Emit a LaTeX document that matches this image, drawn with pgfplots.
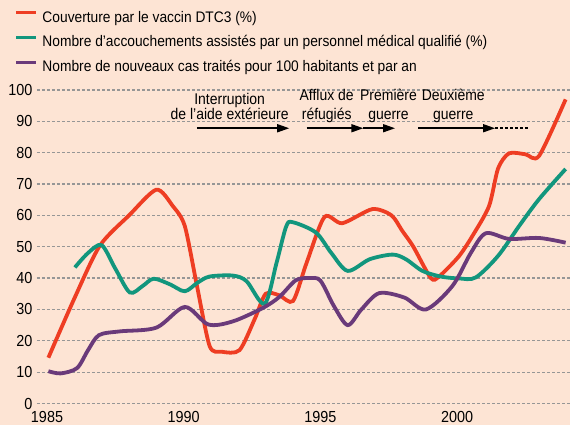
\documentclass[border=0pt]{standalone}
\usepackage{fontspec}
\setmainfont{Liberation Sans}[FakeStretch=0.9]
\usepackage{pgfplots}
\pgfplotsset{compat=1.18}
\usetikzlibrary{arrows.meta}
\definecolor{bg}{RGB}{253,228,212}
\definecolor{cred}{RGB}{238,61,35}
\definecolor{cteal}{RGB}{18,150,125}
\definecolor{cpurple}{RGB}{106,58,122}
\definecolor{cgrid}{RGB}{150,150,150}
\newcommand\chartfont{\fontsize{15.3}{18}\selectfont}
\newcommand\tickfont{\fontsize{16}{18}\selectfont}
\newcommand\annfont{\fontsize{15.5}{18}\selectfont}
\begin{document}
\begin{tikzpicture}
\useasboundingbox (0,0) rectangle (570pt,425pt);
\fill[bg] (0,0) rectangle (570pt,425pt);
\begin{axis}[
  at={(37pt,21.5pt)}, anchor=south west,
  scale only axis, width=533pt, height=313.5pt,
  xmin=1984.634, xmax=2004.13, ymin=0, ymax=100,
  clip=false,
  xtick={1985,1990,1995,2000}, ytick={0,10,...,100},
  /pgf/number format/1000 sep={},
  /pgf/number format/assume math mode=true,
  xticklabel style={font=\tickfont, inner sep=0pt, yshift=-7.5pt},
  yticklabel style={font=\tickfont, inner sep=0pt, xshift=-4.5pt},
  axis line style={draw=none},
  tick style={draw=none},
  major tick length=0pt,
  ymajorgrids,
  major grid style={cgrid, line width=1.2pt, dash pattern=on 3pt off 2pt},
  legend cell align=left,
  legend style={draw=none, fill=none, at={(-0.04128,1.2507)}, anchor=north west,
    inner sep=0pt, outer sep=0pt, row sep=10.6pt, column sep=4.5pt, font=\chartfont,
    nodes={inner sep=0pt, text height=11pt, text depth=3pt}},
  legend image code/.code={\draw[#1, line width=3pt] (0pt,5.4pt) -- (20pt,5.4pt);},
]
\addplot[cred, line width=3.8pt, smooth, tension=0.45] coordinates {
(1985.05,14.6) (1986.0,33.5) (1986.93,50.3) (1988.0,60.0) (1989.0,68.2) (1989.6,63.0)
(1990.04,56.6) (1990.49,37.3) (1990.95,18.3) (1991.4,16.5) (1992.04,17.0) (1992.6,27)
(1993.0,35.0) (1993.5,34.5) (1994.0,32.7) (1994.5,45) (1995.15,59.5) (1995.8,57.5)
(1996.9,62.0) (1997.6,60) (1998.0,55) (1998.4,50) (1999.04,40) (1999.34,40.5)
(2000.07,47) (2000.6,54) (2001.17,63) (2001.5,75) (2001.9,79.8) (2002.5,79.5)
(2003.0,79) (2003.97,97)
};
\addlegendentry{Couverture par le vaccin DTC3 (\%)}
\addplot[cteal, line width=3.8pt, smooth] coordinates {
(1986.02,43.4) (1986.5,48) (1987.0,50.5) (1987.5,43) (1988.03,35.4) (1988.5,37.5)
(1988.9,39.8) (1989.5,38) (1990.04,35.8) (1990.5,38.5) (1990.95,40.5) (1991.8,40.8)
(1992.3,39) (1992.96,31.8) (1993.4,45) (1993.75,56.5) (1994.0,57.8) (1994.84,54.5)
(1995.4,48) (1996.0,42.3) (1996.8,46) (1997.64,47.5) (1998.13,46) (1998.73,42.3)
(1999.4,40.5) (2000.07,39.9) (2000.68,40.2) (2001.5,47.1) (2002.3,57) (2003.0,65.2)
(2003.97,74.8)
};
\addlegendentry{Nombre d’accouchements assistés par un personnel médical qualifié (\%)}
\addplot[cpurple, line width=3.8pt, smooth] coordinates {
(1985.05,10.3) (1985.5,9.6) (1986.1,11.3) (1986.5,17) (1986.9,21.8) (1987.66,23)
(1989.0,24.2) (1990.04,30.8) (1990.9,25.2) (1991.8,26.2) (1992.9,30.5) (1993.5,34)
(1994.1,39.3) (1994.6,40.0) (1995.0,39.2) (1995.5,31) (1996.0,25) (1996.5,30)
(1997.15,35.2) (1998.07,33.8) (1998.86,30.0) (1999.83,37.5) (2000.5,48) (2001.05,54.3)
(2001.9,52.5) (2003.0,52.8) (2003.97,51.3)
};
\addlegendentry{Nombre de nouveaux cas traités pour 100 habitants et par an}
% annotations
\node[font=\annfont, anchor=base, inner sep=0pt] at (axis cs:1991.68,95.44) {Interruption};
\node[font=\annfont, anchor=base, inner sep=0pt] at (axis cs:1991.68,90.65) {de l'aide extérieure};
\node[font=\annfont, anchor=base, inner sep=0pt] at (axis cs:1995.23,96.59) {Afflux de};
\node[font=\annfont, anchor=base, inner sep=0pt] at (axis cs:1995.23,90.65) {réfugiés};
\node[font=\annfont, anchor=base, inner sep=0pt] at (axis cs:1997.49,96.59) {Première};
\node[font=\annfont, anchor=base, inner sep=0pt] at (axis cs:1997.49,90.65) {guerre};
\node[font=\annfont, anchor=base, inner sep=0pt] at (axis cs:1999.86,96.59) {Deuxième};
\node[font=\annfont, anchor=base, inner sep=0pt] at (axis cs:1999.86,90.65) {guerre};
\draw[line width=1.6pt, -{Triangle[length=12pt,width=8pt]}] (axis cs:1990.48,87.8) -- (axis cs:1993.86,87.8);
\draw[line width=1.6pt, -{Triangle[length=12pt,width=8pt]}] (axis cs:1994.50,87.8) -- (axis cs:1996.57,87.8);
\draw[line width=1.6pt, -{Triangle[length=12pt,width=8pt]}] (axis cs:1996.57,87.8) -- (axis cs:1997.73,87.8);
\draw[line width=1.6pt, -{Triangle[length=12pt,width=8pt]}] (axis cs:1998.58,87.8) -- (axis cs:2001.39,87.8);
\draw[line width=1.6pt, dash pattern=on 3pt off 2pt] (axis cs:2001.39,87.8) -- (axis cs:2002.60,87.8);
\end{axis}
\end{tikzpicture}
\end{document}
